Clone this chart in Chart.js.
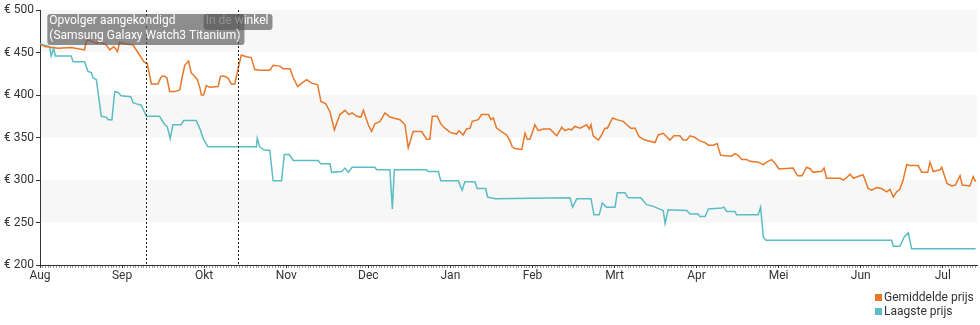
<!DOCTYPE html>
<html>
<head>
<meta charset="utf-8">
<script src="https://cdn.jsdelivr.net/npm/chart.js@4/dist/chart.umd.min.js"></script>
<style>
  body { margin: 0; background: #fff; font-family: Roboto, sans-serif; }
  #wrap { position: relative; width: 980px; height: 325px; }
  #legend { position: absolute; left: 875px; top: 290px; font-size: 12px; color: #333; line-height: 14px; }
  #legend div { white-space: nowrap; }
  #legend span { display: inline-block; width: 7px; height: 7px; margin-right: 2px; }
</style>
</head>
<body>
<div id="wrap">
  <canvas id="priceChart"></canvas>
  <div id="legend"></div>
</div>
<script>
// x = days since 1 Aug, every month drawn 30 days wide
var monthLabels = ['Aug', 'Sep', 'Okt', 'Nov', 'Dec', 'Jan', 'Feb', 'Mrt', 'Apr', 'Mei', 'Jun', 'Jul'];
var lastDay = 342.5;

var avgDays = [0, 1.7, 6.6, 11.4, 16.3, 16.9, 17.5, 20.6, 21.8, 24.2, 25.5, 27.0, 28.3, 29.1, 31.5, 34.0, 35.8, 38.0, 39.2, 40.7,
  43.1, 44.1, 44.6, 45.6, 46.4, 47.4, 49.2, 51.1, 51.9, 52.9, 54.3, 55.3, 56.5, 57.5, 58.4, 59.0, 59.8, 60.8, 62.0, 65.1,
  66.0, 67.5, 68.7, 69.9, 71.2, 72.4, 73.6, 75.4, 77.2, 78.5, 80.3, 84.0, 85.2, 87.7, 88.9, 91.4, 92.6, 94.2, 95.7, 97.5,
  99.3, 101.5, 102.7, 104.4, 106.0, 107.6, 109.6, 111.5, 112.9, 114.1, 115.8, 117.3, 118.2, 120.0, 121.2, 122.4, 124.3, 126.1, 127.9, 131.6,
  133.4, 134.6, 136.4, 139.5, 141.3, 142.5, 143.4, 145.2, 146.5, 148.0, 149.9, 152.3, 153.1, 154.7, 155.9, 157.2, 158.0, 160.2, 161.4, 163.9,
  164.8, 165.7, 166.9, 168.7, 170.6, 171.8, 172.6, 173.6, 176.1, 177.3, 178.1, 179.1, 180.9, 182.1, 184.0, 186.4, 188.9, 190.7, 191.9, 193.1,
  194.3, 195.5, 197.4, 199.8, 200.8, 201.4, 202.2, 204.1, 205.3, 206.5, 207.4, 209.3, 210.8, 213.2, 214.5, 215.9, 217.5, 219.0, 221.1, 224.8,
  226.0, 227.8, 230.3, 231.7, 233.9, 235.1, 236.4, 237.6, 239.4, 241.2, 243.1, 244.3, 246.1, 247.5, 248.8, 252.8, 254.0, 255.2, 256.5, 258.3,
  259.5, 262.5, 264.4, 265.6, 267.4, 268.6, 270.1, 275.3, 276.9, 278.6, 280.2, 281.6, 282.6, 284.7, 285.7, 286.6, 287.5, 292.4, 293.6, 294.9,
  296.1, 297.3, 299.7, 300.9, 302.7, 304.0, 305.8, 307.6, 309.5, 310.7, 311.9, 313.1, 314.3, 315.5, 316.8, 318.0, 321.0, 322.3, 324.5, 325.3,
  326.5, 329.0, 329.6, 331.5, 333.3, 334.6, 336.3, 337.1, 339.9, 341.1, 342.0];
var avgPrice = [460, 457, 455, 456, 453, 463, 465, 461, 462, 459, 453, 457, 451, 462, 460, 459, 450, 439, 437, 413,
  413, 420, 422, 422, 420, 404, 404, 406, 420, 435, 440, 426, 422, 418, 409, 400, 400, 411, 409, 410,
  422, 422, 420, 413, 413, 431, 447, 445, 444, 430, 429, 429, 435, 434, 431, 431, 420, 410, 414, 418,
  414, 412, 392, 390, 380, 359, 377, 382, 377, 379, 375, 374, 382, 365, 357, 366, 369, 379, 374, 371,
  365, 338, 357, 357, 348, 348, 375, 375, 366, 361, 356, 354, 358, 353, 360, 361, 369, 371, 377, 377,
  371, 373, 361, 357, 353, 346, 339, 337, 336, 355, 348, 348, 365, 358, 360, 360, 352, 362, 358, 360,
  359, 363, 361, 365, 360, 365, 352, 347, 353, 361, 361, 373, 371, 369, 365, 361, 361, 351, 347, 344,
  353, 355, 347, 352, 352, 347, 347, 352, 350, 346, 344, 341, 341, 343, 329, 328, 331, 329, 324, 324,
  322, 321, 318, 321, 324, 320, 313, 314, 305, 305, 315, 313, 309, 310, 310, 314, 302, 302, 300, 303,
  307, 302, 305, 306, 290, 288, 291, 290, 286, 289, 280, 286, 289, 300, 318, 317, 317, 309, 309, 321,
  310, 312, 315, 296, 293, 294, 305, 294, 293, 304, 298];

var lowDays = [0, 3.5, 4.1, 5.0, 5.6, 11.4, 12.1, 16.3, 17.5, 18.8, 19.4, 20.6, 22.4, 24.2, 24.9, 26.3, 27.3, 28.5, 29.7, 33.2,
  34.0, 35.8, 37.0, 38.9, 43.7, 45.6, 46.5, 47.6, 48.6, 51.6, 52.5, 57.1, 58.6, 59.6, 61.4, 79.1, 79.4, 80.3, 82.1, 84.0,
  85.2, 88.3, 89.3, 91.1, 92.6, 101.7, 102.6, 106.0, 106.6, 110.3, 111.5, 112.7, 114.1, 122.4, 123.1, 127.9, 128.8, 129.5, 141.3, 141.9,
  145.6, 146.5, 152.9, 154.3, 155.3, 159.0, 159.8, 162.9, 163.6, 166.3, 193.7, 194.7, 196.2, 201.4, 202.5, 204.4, 205.5, 207.1, 210.2, 211.0,
  213.8, 215.0, 219.6, 221.7, 224.2, 227.8, 228.5, 229.6, 236.4, 237.6, 240.6, 241.2, 243.1, 244.3, 249.2, 250.0, 251.0, 254.0, 254.6, 262.5,
  263.4, 264.4, 265.3, 311.3, 311.9, 314.3, 315.9, 317.4, 318.6, 342.0];
var lowPrice = [460, 457, 446, 455, 446, 446, 439, 439, 428, 426, 420, 418, 375, 374, 371, 371, 404, 403, 399, 398,
  391, 389, 388, 375, 375, 365, 363, 349, 365, 365, 370, 370, 359, 349, 339, 339, 349, 339, 335, 335,
  299, 299, 330, 330, 323, 323, 319, 319, 309, 310, 314, 309, 315, 315, 312, 312, 266, 312, 312, 310,
  310, 299, 299, 288, 298, 298, 290, 290, 280, 278, 279, 268, 278, 278, 259, 259, 273, 268, 268, 285,
  285, 279, 279, 271, 269, 264, 249, 265, 264, 260, 260, 257, 257, 266, 267, 268, 263, 263, 259, 259,
  268, 233, 229, 229, 222, 222, 233, 238, 219, 219];

var eventDays = [72.4, 38.7];
var eventTexts = [['In de winkel'], ['Opvolger aangekondigd', '(Samsung Galaxy Watch3 Titanium)']];

var bandRanges = [[450, 500], [350, 400], [250, 300]];

function points(days, prices) {
  return days.map(function (d, i) { return { x: d, y: prices[i] }; });
}

// light grey bands behind the chart area
var bands = {
  id: 'bands',
  beforeDraw: function (chart) {
    var ctx = chart.ctx, area = chart.chartArea, y = chart.scales.y;
    ctx.save();
    ctx.fillStyle = '#f7f7f7';
    bandRanges.forEach(function (r) {
      var top = y.getPixelForValue(r[1]), bottom = y.getPixelForValue(r[0]);
      ctx.fillRect(area.left, top, area.right - area.left, bottom - top);
    });
    ctx.restore();
  }
};

// dotted event lines with their grey labels
var events = {
  id: 'events',
  afterDatasetsDraw: function (chart) {
    var ctx = chart.ctx, area = chart.chartArea, x = chart.scales.x;
    ctx.save();
    ctx.strokeStyle = '#222';
    ctx.lineWidth = 1;
    ctx.setLineDash([2, 2]);
    eventDays.forEach(function (d) {
      var px = Math.round(x.getPixelForValue(d)) + 0.5;
      ctx.beginPath();
      ctx.moveTo(px, area.top);
      ctx.lineTo(px, area.bottom);
      ctx.stroke();
    });
    ctx.setLineDash([]);
    ctx.font = '12px Roboto, sans-serif';
    ctx.textBaseline = 'top';
    eventDays.forEach(function (d, i) {
      var lines = eventTexts[i];
      var w = Math.max.apply(null, lines.map(function (t) { return ctx.measureText(t).width; })) + 6;
      var h = lines.length * 15 + 1;
      var left = x.getPixelForValue(d) - w / 2, top = area.top + 4;
      ctx.fillStyle = 'rgba(85, 85, 85, 0.65)';
      ctx.beginPath();
      ctx.roundRect(left, top, w, h, 3);
      ctx.fill();
      ctx.fillStyle = '#fff';
      lines.forEach(function (t, j) {
        ctx.fillText(t, left + 2, top + 1 + j * 15);
      });
    });
    ctx.restore();
  }
};

var chart = new Chart(document.getElementById('priceChart'), {
  type: 'line',
  data: {
    datasets: [{
      label: 'Gemiddelde prijs',
      data: points(avgDays, avgPrice),
      borderColor: '#e8782a',
      backgroundColor: '#e8782a',
      borderWidth: 1.5,
      pointRadius: 0,
      tension: 0
    }, {
      label: 'Laagste prijs',
      data: points(lowDays, lowPrice),
      borderColor: '#5bbcc4',
      backgroundColor: '#5bbcc4',
      borderWidth: 1.5,
      pointRadius: 0,
      tension: 0
    }]
  },
  options: {
    responsive: true,
    maintainAspectRatio: false,
    animation: false,
    layout: { padding: { top: 10, right: 3, left: 0, bottom: 0 } },
    plugins: {
      legend: { display: false },
      tooltip: { enabled: false }
    },
    scales: {
      x: {
        type: 'linear',
        min: 0,
        max: lastDay,
        afterBuildTicks: function (scale) {
          var ticks = [];
          for (var d = 0; d <= lastDay; d++) ticks.push({ value: d });
          scale.ticks = ticks;
        },
        afterFit: function (scale) { scale.height = 60; },
        border: { color: '#333', width: 1 },
        grid: {
          drawOnChartArea: false,
          tickLength: 3,
          tickColor: function (c) {
            return c.tick && c.tick.value % 30 === 0 ? '#333' : '#999';
          }
        },
        ticks: {
          autoSkip: false,
          maxRotation: 0,
          padding: 1,
          color: '#333',
          font: { family: 'Roboto', size: 12 },
          callback: function (v) {
            return v % 30 === 0 ? monthLabels[v / 30] : '';
          }
        }
      },
      y: {
        min: 200,
        max: 500,
        afterFit: function (scale) { scale.width = 40; },
        border: { color: '#333', width: 1 },
        grid: { drawOnChartArea: false, tickLength: 4, tickColor: '#333' },
        ticks: {
          stepSize: 50,
          padding: 2,
          color: '#333',
          font: { family: 'Roboto', size: 12 },
          callback: function (v) { return '€ ' + v; }
        }
      }
    }
  },
  plugins: [bands, events]
});

// legend stacked in the lower right corner
document.getElementById('legend').innerHTML = chart.data.datasets.map(function (ds) {
  return '<div><span style="background:' + ds.borderColor + '"></span>' + ds.label + '</div>';
}).join('');
</script>
</body>
</html>
